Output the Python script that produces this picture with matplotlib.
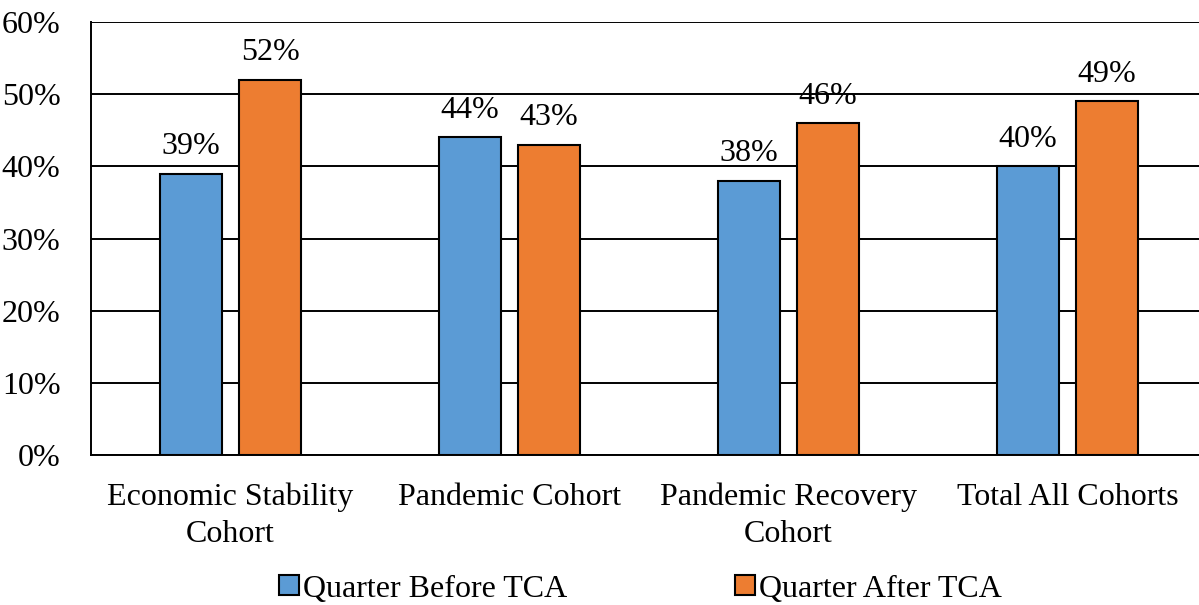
import matplotlib
matplotlib.use("Agg")
import matplotlib.pyplot as plt
from matplotlib.patches import Patch
import numpy as np

categories = ["Economic Stability\nCohort", "Pandemic Cohort", "Pandemic Recovery\nCohort", "Total All Cohorts"]
before = [39, 44, 38, 40]
after = [52, 43, 46, 49]
series_names = ["Quarter Before TCA", "Quarter After TCA"]
yticks = [0, 10, 20, 30, 40, 50, 60]

plt.rcParams['font.family'] = ['Liberation Serif', 'DejaVu Serif']
FS = 23

fig = plt.figure(figsize=(11.99, 6.05), dpi=100)
ax = fig.add_axes([91/1199, 150/605, 1116/1199, 433/605])

x = np.arange(len(categories))
w = 0.222
off = 0.1416
blue = "#5B9BD5"
orange = "#ED7D31"
b1 = ax.bar(x - off, before, w, color=blue, edgecolor="black", linewidth=1.5, zorder=3)
b2 = ax.bar(x + off, after, w, color=orange, edgecolor="black", linewidth=1.5, zorder=3)

for bars, vals in ((b1, before), (b2, after)):
    for r, v in zip(bars, vals):
        ax.text(r.get_x() + r.get_width()/2, v + 1.7, f"{v}%", ha="center", va="bottom",
                fontsize=FS, zorder=4)

ax.set_ylim(0, 60)
ax.set_xlim(-0.5, 3.5)
ax.set_yticks(yticks)
ax.set_yticklabels([f"{t}%" for t in yticks], fontsize=FS)
ax.set_xticks(x)
ax.set_xticklabels(categories, fontsize=FS, linespacing=1.35)
ax.tick_params(axis="both", length=0)
ax.tick_params(axis="y", pad=22)
ax.tick_params(axis="x", pad=20)
ax.yaxis.grid(True, color="black", linewidth=1.4, zorder=0)
ax.set_axisbelow(True)
for s in ["top", "right"]:
    ax.spines[s].set_visible(False)
ax.spines["left"].set_linewidth(1.4)
ax.spines["bottom"].set_linewidth(1.4)

handles = [Patch(facecolor=blue, edgecolor="black", linewidth=1.5),
           Patch(facecolor=orange, edgecolor="black", linewidth=1.5)]
fig.legend(handles, series_names, loc="center", bbox_to_anchor=(0.5345, 16/605),
           ncol=2, frameon=False, fontsize=FS, handlelength=0.6, handleheight=0.6,
           handletextpad=0.15, columnspacing=5.25, borderpad=0)

fig.savefig("out.png", dpi=100)
